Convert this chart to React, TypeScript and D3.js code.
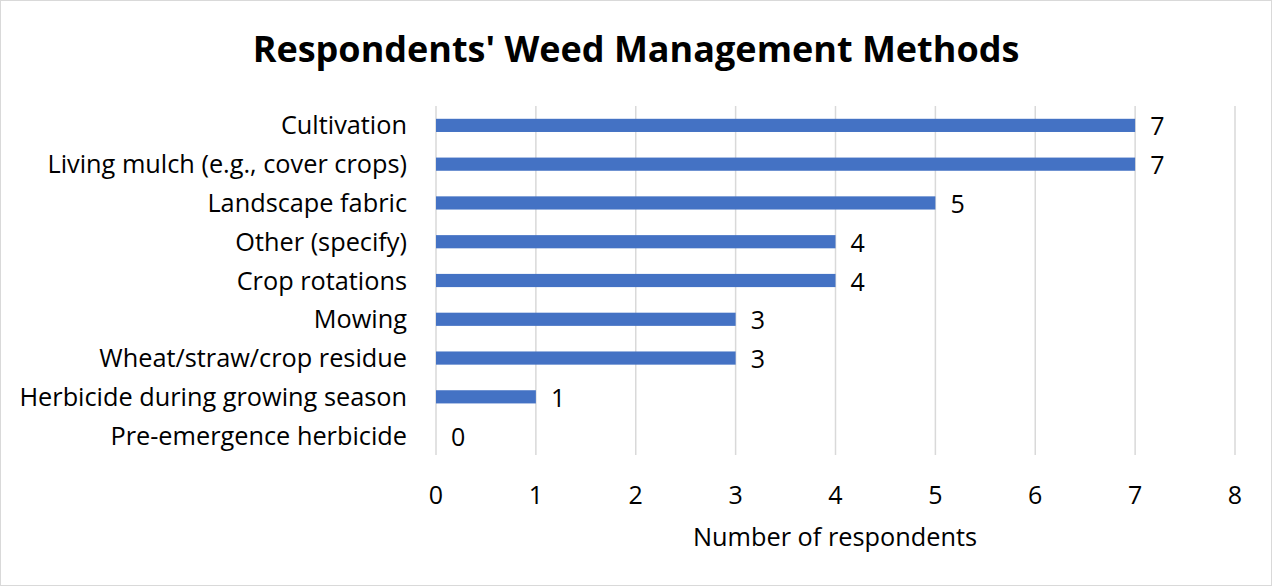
import React from "react";
import * as d3 from "d3";

const categories = [
  "Cultivation",
  "Living mulch (e.g., cover crops)",
  "Landscape fabric",
  "Other (specify)",
  "Crop rotations",
  "Mowing",
  "Wheat/straw/crop residue",
  "Herbicide during growing season",
  "Pre-emergence herbicide",
];
const values = [7, 7, 5, 4, 4, 3, 3, 1, 0];
const xTicks = [0, 1, 2, 3, 4, 5, 6, 7, 8];

const W = 1272;
const H = 586;
const FONT = "'Open Sans', 'Noto Sans', sans-serif";

export default function App() {
  const x = d3.scaleLinear().domain([0, 8]).range([436, 1235]);
  const y = d3
    .scaleBand<string>()
    .domain(categories)
    .range([106, 455])
    .paddingInner(0.66)
    .paddingOuter(0.33);

  return (
    <svg
      width={W}
      height={H}
      style={{ position: "absolute", left: 0, top: 0, background: "#fff" }}
      fontFamily={FONT}
    >
      <rect x={0.5} y={0.5} width={W - 1} height={H - 1} fill="#fff" stroke="#d9d9d9" />
      <text x={636} y={62} textAnchor="middle" fontSize={36} fontWeight="bold" fill="#000">
        Respondents' Weed Management Methods
      </text>

      {xTicks.map((t) => (
        <g key={t}>
          <line x1={x(t)} x2={x(t)} y1={106} y2={455} stroke="#d9d9d9" strokeWidth={1.5} />
          <text x={x(t)} y={504} textAnchor="middle" fontSize={25} fill="#000">
            {t}
          </text>
        </g>
      ))}

      {categories.map((c, i) => {
        const yb = y(c)!;
        const bw = y.bandwidth();
        return (
          <g key={c}>
            <rect x={x(0)} y={yb} width={x(values[i]) - x(0)} height={bw} fill="#4472c4" />
            <text
              x={407}
              y={yb + bw / 2 + 9}
              textAnchor="end"
              fontSize={25.3}
              fill="#000"
            >
              {c}
            </text>
            <text x={x(values[i]) + 15} y={yb + bw / 2 + 10} fontSize={25} fill="#000">
              {values[i]}
            </text>
          </g>
        );
      })}

      <text x={835} y={546} textAnchor="middle" fontSize={25.3} fill="#000">
        Number of respondents
      </text>
    </svg>
  );
}
